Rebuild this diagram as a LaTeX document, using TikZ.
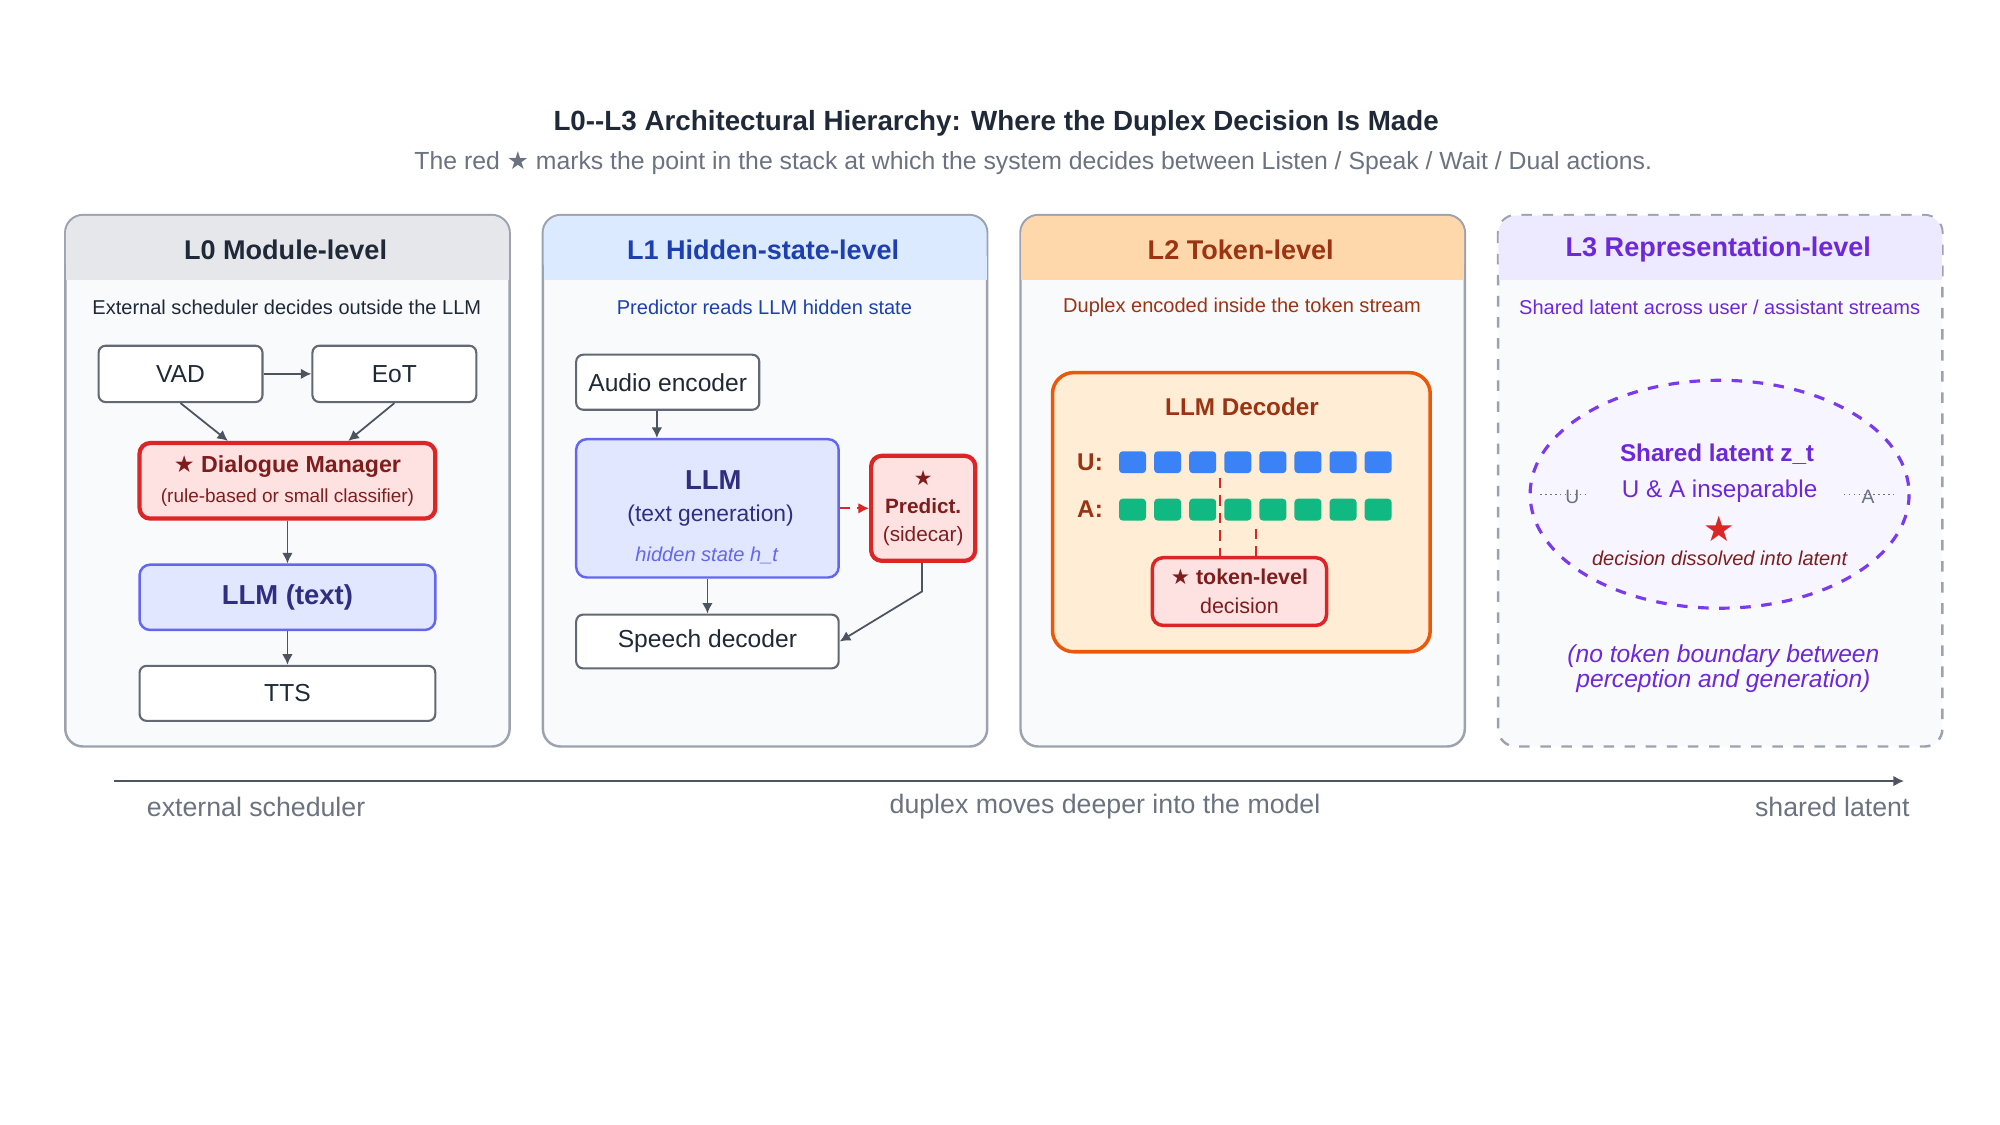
\documentclass[tikz,border=0pt]{standalone}
\usepackage{fontspec}
\setmainfont{Liberation Sans}
\newfontfamily\symf{DejaVu Sans}
\usetikzlibrary{positioning, arrows.meta}
\newcommand{\fs}[1]{\fontsize{#1}{#1}\selectfont}
\newcommand{\str}{{\symf ★}}
\definecolor{panelfill}{HTML}{F8FAFC}
\definecolor{panelline}{HTML}{9CA3AF}
\definecolor{ink}{HTML}{1F2937}
\definecolor{greytxt}{HTML}{6B7280}
\definecolor{redline}{HTML}{DC2626}
\definecolor{redfill}{HTML}{FEE2E2}
\definecolor{redtxt}{HTML}{7F1D1D}
\definecolor{indline}{HTML}{6366F1}
\definecolor{indfill}{HTML}{E0E7FF}
\definecolor{indtxt}{HTML}{312E81}
\definecolor{bluehd}{HTML}{DBEAFE}
\definecolor{bluetxt}{HTML}{1E40AF}
\definecolor{orghd}{HTML}{FED7AA}
\definecolor{orgtxt}{HTML}{9A3412}
\definecolor{orgline}{HTML}{EA580C}
\definecolor{orgfill}{HTML}{FFEDD5}
\definecolor{purhd}{HTML}{EDE9FE}
\definecolor{purtxt}{HTML}{6D28D9}
\definecolor{purline}{HTML}{7C3AED}
\definecolor{tokblue}{HTML}{3B82F6}
\definecolor{tokgreen}{HTML}{10B981}
\definecolor{greyhd}{HTML}{E5E7EB}

\tikzset{
	box/.style={draw=ink!70, fill=white, rounded corners=2pt, line width=0.6pt, text=ink, font=\fs{7}},
	redbox/.style={draw=redline, fill=redfill, rounded corners=3pt, line width=1.2pt, text=redtxt, align=center},
	llmbox/.style={draw=indline, fill=indfill, rounded corners=3pt, line width=0.7pt, text=indtxt, align=center},
	arr/.style={-{Latex[length=3pt,width=3pt]}, draw=ink!80, line width=0.5pt},
	tok/.style={fill=#1, rounded corners=1pt, minimum width=21*0.012821cm, minimum height=17*0.012821cm, inner sep=0pt}
}

\begin{document}
\begin{tikzpicture}[x=0.0128cm, y=-0.0128cm]
	\useasboundingbox (0,0) rectangle (1562,878.6);

	% titles
	\node[font=\fs{7.9}\bfseries, text=ink] (title) at (778,96) {L0-{}-L3 Architectural Hierarchy: Where the Duplex Decision Is Made};
	\node[font=\fs{7.05}, text=greytxt] (subtitle) at (807,127) {The red \str{} marks the point in the stack at which the system decides between Listen / Speak / Wait / Dual actions.};

	% panels
	\foreach \x/\hd/\tc/\name/\sub [count=\i] in {
		51/greyhd/ink/L0 Module-level/External scheduler decides outside the LLM,
		424/bluehd/bluetxt/L1 Hidden-state-level/Predictor reads LLM hidden state,
		797/orghd/orgtxt/L2 Token-level/Duplex encoded inside the token stream,
		1170/purhd/purtxt/L3 Representation-level/{Shared latent across user / assistant streams}} {
		\ifnum\i=4
			\draw[panelline, dashed, fill=panelfill, rounded corners=5pt, line width=0.7pt] (\x,168) rectangle ++(347,415);
		\else
			\draw[panelline, fill=panelfill, rounded corners=5pt, line width=0.7pt] (\x,168) rectangle ++(347,415);
		\fi
		\fill[\hd, rounded corners=5pt] (\x+0.5,168.5) rectangle ++(346,50);
		\fill[\hd] (\x+0.5,200) rectangle ++(346,18.5);
		\node[font=\fs{7.7}\bfseries, text=\tc] (head\i) at (\x+172,195) {\name};
		\node[font=\fs{5.7}, text=\tc] (sub\i) at (\x+173,240) {\sub};
	}

	% L0
	\node[box, minimum width=128*0.0128cm, minimum height=44*0.0128cm] (vad) at (141,292) {VAD};
	\node[box, minimum width=128*0.0128cm, minimum height=44*0.0128cm] (eot) at (308,292) {EoT};
	\node[redbox, minimum width=231*0.0128cm, minimum height=59*0.0128cm, font=\fs{6.6}] (dm) at (224.5,375.5)
		{{\bfseries\str{} Dialogue Manager}\\[2pt]{\fs{5.4}(rule-based or small classifier)}};
	\node[llmbox, minimum width=231*0.0128cm, minimum height=51*0.0128cm, font=\fs{7.8}\bfseries] (llm0) at (224.5,466.5) {LLM (text)};
	\node[box, minimum width=231*0.0128cm, minimum height=43*0.0128cm] (tts) at (224.5,541.5) {TTS};
	\draw[arr] (vad) -- (eot);
	\draw[arr] (vad.south) -- (dm.north -| 178,0);
	\draw[arr] (eot.south) -- (dm.north -| 272,0);
	\draw[arr] (dm) -- (llm0);
	\draw[arr] (llm0) -- (tts);

	% L1
	\node[box, minimum width=143*0.0128cm, minimum height=43*0.0128cm] (audio) at (521.5,298.5) {Audio encoder};
	\node[llmbox, minimum width=205*0.0128cm, minimum height=108*0.0128cm] (llm1) at (552.5,397) {};
	\node[font=\fs{7.8}\bfseries, text=indtxt] (llmlbl) at (557,375) {LLM};
	\node[font=\fs{6.5}, text=indtxt] (llmgen) at (555,403) {(text generation)};
	\node[font=\fs{5.7}\itshape, text=indline] (hstate) at (552,434) {hidden state h\_t};
	\node[redbox, minimum width=80*0.0128cm, minimum height=82*0.0128cm, font=\fs{5.9}] (pred) at (721,397)
		{\str\\[2pt]{\bfseries Predict.}\\[2pt](sidecar)};
	\node[box, minimum width=205*0.0128cm, minimum height=42*0.0128cm] (speech) at (552.5,501) {Speech decoder};
	\draw[arr] (audio.south -| 513,0) -- (llm1.north -| 513,0);
	\draw[arr] (llm1.south) -- (speech.north);
	\draw[arr, draw=redline, densely dashed, -{Latex[length=3pt,width=3pt]}] (llm1.east) -- (pred.west);
	\coordinate (bend) at (720,462);
	\draw[arr] (pred.south -| bend) -- (bend) -- (speech.east);

	% L2
	\draw[orgline, fill=orgfill, rounded corners=6pt, line width=1pt] (822,291) rectangle (1117,509);
	\node[font=\fs{6.9}\bfseries, text=orgtxt] (dec) at (970,318) {LLM Decoder};
	\node[font=\fs{6.9}\bfseries, text=orgtxt, anchor=east] (ulbl) at (871,361) {U:};
	\node[font=\fs{6.9}\bfseries, text=orgtxt, anchor=east] (albl) at (871,398) {A:};
	\foreach \k in {0,...,7} {
		\node[tok=tokblue] (u\k) at (884.5+\k*27.4,361) {};
		\node[tok=tokgreen] (a\k) at (884.5+\k*27.4,398) {};
	}
	\node[redbox, minimum width=136*0.0128cm, minimum height=50*0.0128cm, line width=1pt, font=\fs{6.1}] (tokdec) at (968,462)
		{{\bfseries\str{} token-level}\\[2pt]decision};
	\draw[redline, densely dashed, line width=0.6pt] (953,373) -- (953,437);
	\draw[redline, densely dashed, line width=0.6pt] (981,413) -- (981,437);

	% L3
	\draw[purline, dashed, line width=0.9pt, fill=purhd!45] (1343,386) ellipse (148 and 89);
	\node[font=\fs{6.9}\bfseries, text=purtxt] (zt) at (1341,355) {Shared latent z\_t};
	\node[font=\fs{6.9}, text=purtxt] (insep) at (1343,384) {U \& A inseparable};
	\node[font=\fs{10}, text=redline] (star3) at (1343,413) {\str};
	\node[font=\fs{5.7}\itshape, text=redtxt] (dissolve) at (1343,436) {decision dissolved into latent};
	\node[font=\fs{5.5}, text=greytxt, inner sep=1pt] (uu) at (1228,388) {U};
	\node[font=\fs{5.5}, text=greytxt, inner sep=1pt] (aa) at (1459,388) {A};
	\draw[greytxt, densely dotted, line width=0.4pt] (1203,386) -- (1240,386);
	\draw[greytxt, densely dotted, line width=0.4pt] (1440,386) -- (1480,386);
	\node[font=\fs{7}\itshape, text=purtxt, align=center] (nobound) at (1346,522) {(no token boundary between\\perception and generation)};

	% axis
	\coordinate (axl) at (89,610);
	\coordinate (axr) at (1487,610);
	\draw[arr, draw=ink!80] (axl) -- (axr);
	\node[font=\fs{7.6}, text=greytxt] (ext) at (200,630) {external scheduler};
	\node[font=\fs{7.6}, text=greytxt] (deeper) at (863,630) {duplex moves deeper into the model};
	\node[font=\fs{7.6}, text=greytxt] (shared) at (1431,630) {shared latent};
\end{tikzpicture}
\end{document}
